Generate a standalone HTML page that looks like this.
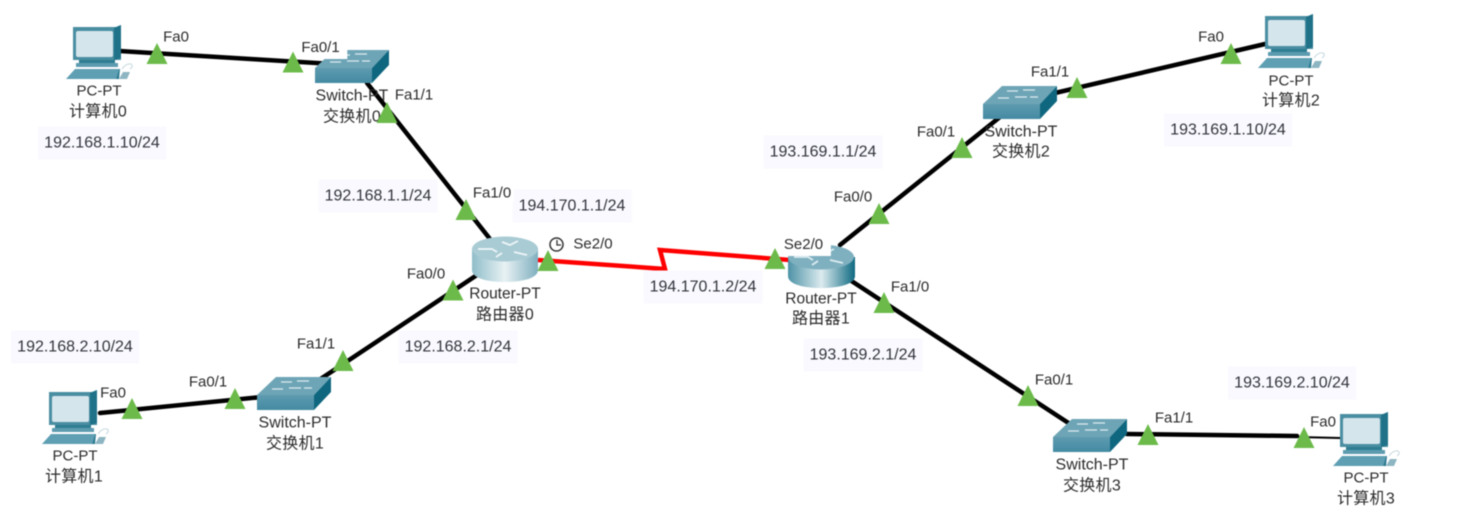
<!DOCTYPE html>
<html><head><meta charset="utf-8"><style>
html,body{margin:0;padding:0;background:#fff;width:1465px;height:521px;overflow:hidden}
#w{position:relative;width:1465px;height:521px;filter:blur(.45px)}
svg.g{position:absolute;left:0;top:0}
#w div{position:absolute;transform:translate(-50%,-50%);white-space:nowrap;font-family:"Liberation Sans","Noto Sans CJK SC",sans-serif;color:#2b2b2b}
.d{font-size:15px;line-height:17px}
.s{font-size:16px!important}
.r{font-size:15.5px!important}
.c{font-size:16px!important;letter-spacing:.3px}
.p{font-size:15px;line-height:17px;background:#fff;padding:1px 3px}
.i{font-size:16px;line-height:33px;background:#f9f9ff;padding:0 6px;color:#33333d!important}
</style></head><body><div id="w">
<svg class="g" width="1465" height="521" viewBox="0 0 1465 521" xmlns="http://www.w3.org/2000/svg">
<defs>
<linearGradient id="sw" x1="0" y1="0" x2="0" y2="1"><stop offset="0" stop-color="#5f9bb0"/><stop offset="1" stop-color="#438aa2"/></linearGradient>
<linearGradient id="rt" x1="0" y1="0" x2="1" y2="0"><stop offset="0" stop-color="#8fbdc9"/><stop offset=".5" stop-color="#e8f2f4"/><stop offset="1" stop-color="#7fb0bf"/></linearGradient>
<linearGradient id="rd" x1="0" y1="0" x2="1" y2="0"><stop offset="0" stop-color="#4d92a6"/><stop offset=".5" stop-color="#dcebef"/><stop offset="1" stop-color="#0f6a82"/></linearGradient>
<g id="pc">
<polygon points="7,2 50,2 55,0 55,35 7,35" fill="#4a8ea2"/>
<polygon points="48,3 55,0 55,33 48,35" fill="#1f7288"/>
<rect x="10" y="6" width="37" height="26" rx="2" fill="#d5e5ec"/>
<rect x="13" y="35" width="36" height="3" fill="#2e7d92"/>
<rect x="10" y="38" width="42" height="4" fill="#5d9cb0"/>
<polygon points="0,54 9,44 53,44 50,54" fill="#5f9fb3"/>
<polygon points="50,54 53,44 54,44 53,54" fill="#2b7a90"/>
<polygon points="53,54 57,47 64,47 61,54" fill="#8db5c2"/>
<path d="M56 44 q4 -6 9 -5 q3 2 -1 5" fill="none" stroke="#c3d6dc" stroke-width="1"/>
</g>
<g id="sw1">
<polygon points="0,19 19,1 74,1 57,19" fill="#6ea5b6"/>
<rect x="0" y="19" width="57" height="15" fill="url(#sw)"/>
<polygon points="57,19 74,1 74,16 57,34" fill="#0f677f"/>
<path d="M24 6h11M40 5h12M15 13h11M32 12h12M47 12h8" stroke="#dcecf1" stroke-width="1.3"/>
</g>
<g id="rt0">
<path d="M0 12V33C0 41 15 45 33 45S66 41 66 33V12Z" fill="url(#rt)"/>
<ellipse cx="33" cy="12" rx="33" ry="12.5" fill="#a9cbd4"/>
<path d="M6 12h14l5 3M30 5l8 3 8-4M42 15l13 3M24 20l6-4" fill="none" stroke="#eef6f8" stroke-width="1.8"/>
</g>
<g id="rt1">
<path d="M0 14V33C0 41 15 45 33 45S67 41 67 33V14Z" fill="url(#rd)"/>
<ellipse cx="33" cy="14" rx="33" ry="12.5" fill="#7fb0c0"/>
<path d="M6 14h14l5 3M30 7l8 3 8-4M42 17l13 3M24 22l6-4" fill="none" stroke="#dcecf0" stroke-width="1.8"/>
</g>
<polygon id="t" points="-10.5,0 0,-21 10.5,0" fill="#6cbb4a"/>
</defs>
<g stroke="#000" stroke-width="4.500" fill="none" stroke-linecap="round">
<line x1="120" y1="51" x2="325" y2="63.500"/>
<line x1="367" y1="83" x2="490" y2="239"/>
<line x1="477" y1="275" x2="316" y2="382"/>
<line x1="100" y1="413" x2="262" y2="397"/>
<line x1="840" y1="245" x2="1000" y2="117"/>
<line x1="1055" y1="93" x2="1265" y2="44"/>
<line x1="850" y1="280" x2="1070" y2="424"/>
<line x1="1127" y1="434" x2="1297" y2="436"/>
<line x1="1297" y1="437" x2="1340" y2="438" stroke-width="2"/>
</g>
<polyline points="538,260 665,269 660,250 790,260" fill="none" stroke="#f00" stroke-width="4.500"/>
<use href="#pc" x="66" y="25"/><use href="#pc" x="42" y="390"/><use href="#pc" x="1258" y="14"/><use href="#pc" x="1333" y="412"/>
<use href="#sw1" x="315" y="49"/><use href="#sw1" x="257" y="376"/><use href="#sw1" x="983" y="85"/><use href="#sw1" x="1053" y="418"/>
<use href="#rt0" x="472" y="237"/><use href="#rt1" x="788" y="243"/>
</svg>
<div class="d" style="left:99px;top:91px">PC-PT</div><div class="d c" style="left:98px;top:112px">计算机0</div>
<div class="d s" style="left:352px;top:96px">Switch-PT</div><div class="d c" style="left:352px;top:117px">交换机0</div>
<div class="d r" style="left:505px;top:294px">Router-PT</div><div class="d c" style="left:505px;top:315px">路由器0</div>
<div class="d r" style="left:821px;top:299px">Router-PT</div><div class="d c" style="left:821px;top:319px">路由器1</div>
<div class="d" style="left:75px;top:456px">PC-PT</div><div class="d c" style="left:74px;top:477px">计算机1</div>
<div class="d s" style="left:295px;top:423px">Switch-PT</div><div class="d c" style="left:295px;top:444px">交换机1</div>
<div class="d s" style="left:1021px;top:132px">Switch-PT</div><div class="d c" style="left:1021px;top:152px">交换机2</div>
<div class="d" style="left:1291px;top:81px">PC-PT</div><div class="d c" style="left:1291px;top:101px">计算机2</div>
<div class="d s" style="left:1092px;top:465px">Switch-PT</div><div class="d c" style="left:1092px;top:486px">交换机3</div>
<div class="d" style="left:1366px;top:478px">PC-PT</div><div class="d c" style="left:1366px;top:499px">计算机3</div>

<div class="i" style="left:102px;top:143px">192.168.1.10/24</div>
<div class="i" style="left:378px;top:196px">192.168.1.1/24</div>
<div class="i" style="left:572px;top:206px">194.170.1.1/24</div>
<div class="i" style="left:703px;top:287px">194.170.1.2/24</div>
<div class="i" style="left:458px;top:347px">192.168.2.1/24</div>
<div class="i" style="left:75px;top:347px">192.168.2.10/24</div>
<div class="i" style="left:823px;top:152px">193.169.1.1/24</div>
<div class="i" style="left:1228px;top:130px">193.169.1.10/24</div>
<div class="i" style="left:863px;top:355px">193.169.2.1/24</div>
<div class="i" style="left:1292px;top:383px">193.169.2.10/24</div>

<div class="p" style="left:176px;top:37px">Fa0</div>
<div class="p" style="left:323px;top:48px;padding:2px 8px 3px 3px">Fa0/1</div>
<div class="p" style="left:412px;top:95px;padding-left:7px">Fa1/1</div>
<div class="p" style="left:492px;top:193px">Fa1/0</div>
<div class="p" style="left:593px;top:244px">Se2/0</div>
<div class="p" style="left:426px;top:274px">Fa0/0</div>
<div class="p" style="left:316px;top:344px">Fa1/1</div>
<div class="p" style="left:208px;top:382px">Fa0/1</div>
<div class="p" style="left:113px;top:393px">Fa0</div>
<div class="p" style="left:806px;top:245px;padding:2px 8px 3px 3px">Se2/0</div>
<div class="p" style="left:853px;top:197px">Fa0/0</div>
<div class="p" style="left:910px;top:287px">Fa1/0</div>
<div class="p" style="left:1054px;top:380px">Fa0/1</div>
<div class="p" style="left:1174px;top:418px">Fa1/1</div>
<div class="p" style="left:1323px;top:422px">Fa0</div>
<div class="p" style="left:936px;top:132px">Fa0/1</div>
<div class="p" style="left:1050px;top:72px">Fa1/1</div>
<div class="p" style="left:1211px;top:37px">Fa0</div>

<svg class="g" width="1465" height="521" viewBox="0 0 1465 521" xmlns="http://www.w3.org/2000/svg">
<circle cx="556.500" cy="244.500" r="6.500" fill="#fff" stroke="#333" stroke-width="1.500"/>
<path d="M557 240v5h4" fill="none" stroke="#333" stroke-width="1.300"/>
<use href="#t" x="157" y="64"/><use href="#t" x="293" y="72.500"/><use href="#t" x="387" y="123"/>
<use href="#t" x="466" y="220"/><use href="#t" x="548" y="271"/><use href="#t" x="453" y="300.500"/>
<use href="#t" x="343" y="371"/><use href="#t" x="235" y="409"/><use href="#t" x="132" y="419"/>
<use href="#t" x="775" y="269"/><use href="#t" x="879" y="224"/><use href="#t" x="884" y="313"/>
<use href="#t" x="1028" y="406"/><use href="#t" x="1148" y="445"/><use href="#t" x="1304" y="448"/>
<use href="#t" x="962" y="158"/><use href="#t" x="1077" y="98"/><use href="#t" x="1231" y="64"/>
</svg>
</div></body></html>
